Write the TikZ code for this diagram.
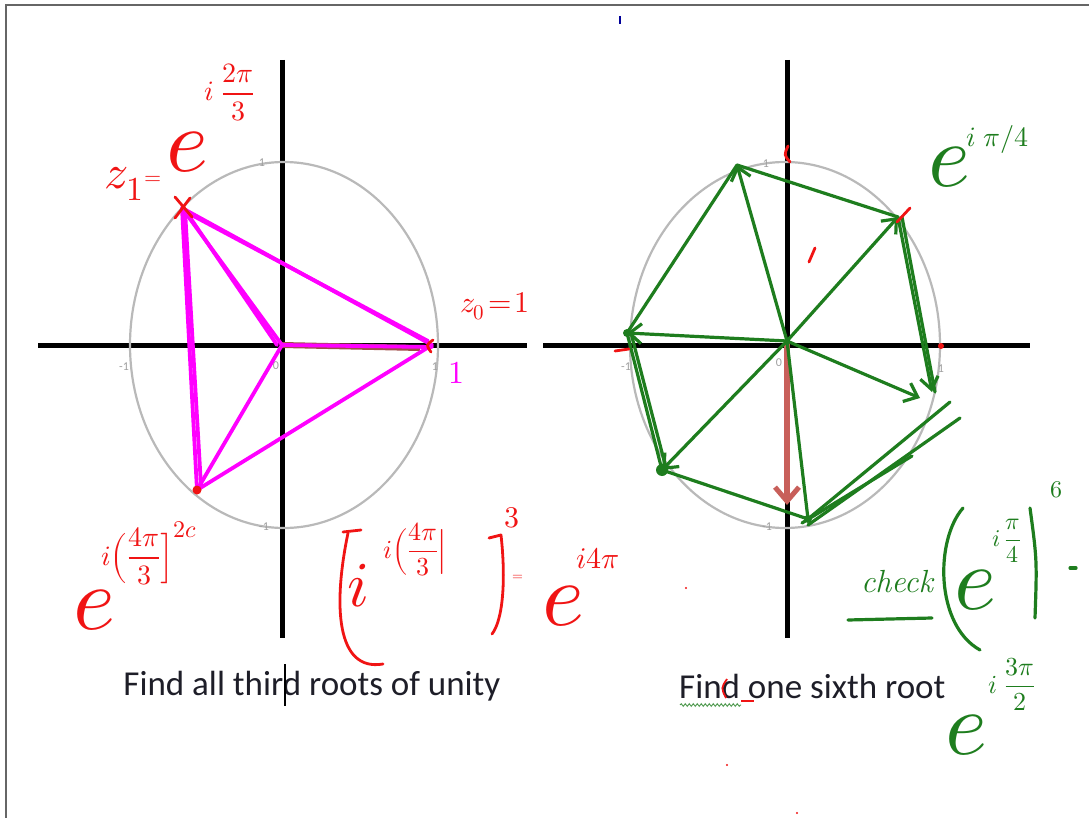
\documentclass[tikz,border=0pt]{standalone}
\usepackage{fontspec}
\usepackage{unicode-math}
\newfontfamily\slidefont{Carlito}
\usetikzlibrary{arrows.meta,decorations.pathmorphing}

\definecolor{penRed}{RGB}{240,20,20}
\definecolor{penPink}{RGB}{255,0,255}
\definecolor{penGreen}{RGB}{30,125,30}
\definecolor{arrowRed}{RGB}{200,95,90}
\definecolor{slideGray}{RGB}{30,30,40}

% raised handwritten exponent: size, raise, formula
\newcommand{\hwexp}[3]{\raisebox{#2}{\fontsize{#1}{#1}\selectfont$#3$}}

\begin{document}
\begin{tikzpicture}[x=1pt,y=-1pt,
  axis/.style={line width=5pt},
  unitcirc/.style={gray!55,line width=2.2pt},
  ticklbl/.style={text=gray!75,font=\fontsize{12}{12}\selectfont\slidefont,inner sep=0pt},
  pinkpen/.style={penPink,line width=3.8pt,line cap=round,line join=round},
  greenpen/.style={penGreen,line width=3.2pt,line cap=round,line join=round},
  redpen/.style={penRed,line width=2.8pt,line cap=round,line join=round},
  redtext/.style={text=penRed,inner sep=0pt},
  greentext/.style={text=penGreen,inner sep=0pt},
  slidetext/.style={text=slideGray,font=\fontsize{35}{35}\selectfont\slidefont,inner sep=0pt},
  hand/.style={font=\fontsize{#1}{#1}\selectfont}
]
\useasboundingbox (0,0) rectangle (1089,818);

% Slide frame
\draw[gray!80!black,line width=2pt] (6,818) -- (6,5) -- (1089,5);

% Axes
\draw[axis] (38,345) -- (527,345);
\draw[axis] (282,60) -- (282,638);
\draw[axis] (543,345) -- (1030,345);
\draw[axis] (787,60) -- (787,638);

% Unit circles
\draw[unitcirc] (284,345) ellipse [x radius=154,y radius=183];
\draw[unitcirc] (785,345) ellipse [x radius=155,y radius=183];

% Tick labels
\node[ticklbl] (tl1) at (124,367) {-1};
\node[ticklbl] (tl2) at (276,366) {0};
\node[ticklbl] (tl3) at (435,367) {1};
\node[ticklbl] (tl4) at (262,163) {1};
\node[ticklbl] (tl5) at (264,527) {-1};
\node[ticklbl] (tr1) at (626,367) {-1};
\node[ticklbl] (tr2) at (779,363) {0};
\node[ticklbl] (tr3) at (941,369) {1};
\node[ticklbl] (tr4) at (766,164) {1};
\node[ticklbl] (tr5) at (767,527) {-1};

% Slide captions
\node[slidetext] (capleft) at (312,686) {Find all third roots of unity};
\node[slidetext,anchor=west] (capright) at (679,686) {Find one sixth root};
\draw[line width=1.5pt] (285,664) -- (285,706);
\draw[penGreen!80,line width=0.9pt,decorate,decoration={snake,amplitude=1.3pt,segment length=4pt}]
  (680,705) -- (741,705);
\draw[penRed,line width=1.8pt] (727,679) .. controls (721,688) .. (726,698);
\draw[penRed,line width=1.8pt] (741,701) -- (754,701);

% Third roots
\coordinate (O1) at (282,345);
\coordinate (z0) at (432,345);
\coordinate (z1) at (182,208);
\coordinate (z2) at (197,490);

\draw[arrowRed!80!black,line width=6pt] (O1) -- (420,348);
\draw[pinkpen] (O1) -- ([yshift=-2]z0);
\draw[pinkpen] (z0) -- (z1) -- (z2) -- (z0);
\draw[pinkpen] ([shift={(4,4)}]z1) -- ([shift={(-4,-4)}]z0);
\draw[pinkpen] ([shift={(3,2)}]z1) -- ([shift={(4,-4)}]z2);
\draw[pinkpen] (O1) -- (z1);
\draw[pinkpen] ([shift={(-5,0)}]O1) -- ([shift={(5,5)}]z1);
\draw[pinkpen] (O1) -- (z2);

\draw[redpen] (175,197) -- (192,217);
\draw[redpen] (190,198) -- (175,218);
\fill[penRed] (z2) circle (4.5pt);
\draw[redpen] (433,340) .. controls (426,345) .. (431,352);

% Third roots, writing
\node[redtext,hand=48] (zone) at (124,184) {$z_1$};
\node[redtext,hand=22] (eqone) at (153,180) {$=$};
\node[redtext,hand=90,anchor=base west] (eone) at (166,172)
  {$e$\kern-4pt\hwexp{28}{71pt}{i\;\displaystyle\frac{2\pi}{3}}};

\node[redtext,hand=30] (zzero) at (495,306) {$z_0\!=\!1$};
\node[text=penPink,inner sep=0pt,hand=32] (onelbl) at (456,373) {$1$};

\node[redtext,hand=90,anchor=base west] (etwo) at (73,629)
  {$e$\kern-14pt\hwexp{28}{64pt}{i\Bigl(\displaystyle\frac{4\pi}{3}\Bigr]^{\mbox{\fontsize{24}{24}\selectfont$2c$}}}};

\draw[redpen] (343,532) -- (361,530);
\draw[redpen] (348,533) .. controls (333,605) and (336,672) .. (383,664);
\node[redtext,hand=64,anchor=base west] (ibase) at (347,606)
  {$i$\kern14pt\hwexp{26}{48pt}{i\Bigl(\displaystyle\frac{4\pi}{3}\Bigr|}};
\draw[redpen] (489,538) -- (501,535) .. controls (506,580) and (503,620) .. (492,634);
\node[redtext,hand=30] (cube) at (512,518) {$3$};
\node[redtext,hand=14] (eqtwo) at (518,578) {$=$};
\node[redtext,hand=90,anchor=base west] (ethree) at (542,625)
  {$e$\kern-8pt\hwexp{30}{57pt}{i4\pi}};

% Sixth roots
\coordinate (O2) at (787,341);
\coordinate (w1) at (737,165);
\coordinate (w2) at (898,217);
\coordinate (w3) at (932,392);
\coordinate (w4) at (808,519);
\coordinate (w5) at (662,470);
\coordinate (w6) at (627,333);

\draw[arrowRed,line width=6pt,-{Straight Barb[length=14pt,width=24pt,line width=5pt]}]
  (O2) -- (787,505);

\draw[greenpen,-{Straight Barb[length=12pt,width=20pt]}] (O2) -- (w1);
\draw[greenpen,-{Straight Barb[length=12pt,width=20pt]}] (O2) -- (w2);
\draw[greenpen,-{Straight Barb[length=12pt,width=20pt]}] (O2) -- (920,398);
\draw[greenpen] (O2) -- (w4);
\draw[greenpen,-{Straight Barb[length=12pt,width=20pt]}] (O2) -- (w5);
\draw[greenpen,-{Straight Barb[length=12pt,width=20pt]}] (O2) -- (w6);
\draw[greenpen] (w6) -- (w1) -- (w2);
\draw[greenpen,-{Straight Barb[length=12pt,width=18pt]}] (w2) -- (w3);
\draw[greenpen] ([xshift=4]w2) -- ([xshift=3]w3);
\draw[greenpen] (w4) -- (w5) -- (w6);
\draw[greenpen] ([shift={(4,-2)}]w5) -- ([shift={(4,0)}]w6);
\draw[greenpen] (w4) -- (950,402);
\draw[greenpen] ([shift={(0,6)}]w4) -- (960,418);
\draw[greenpen] ([shift={(-6,4)}]w4) -- (912,456);

\fill[penGreen] (w5) circle (6pt);
\fill[penGreen] (w6) circle (4pt);
\fill[penGreen] (w4) circle (4pt);

\draw[redpen] (788,146) .. controls (784,155) .. (790,162);
\draw[redpen] (809,262) -- (815,248);
\draw[redpen] (897,222) -- (910,208);
\fill[penRed] (941,346) circle (3pt);
\draw[redpen] (615,351) -- (629,349);

% Sixth roots, writing
\node[greentext,hand=90,anchor=base west] (efour) at (928,187)
  {$e$\kern-4pt\hwexp{28}{40pt}{i\;\pi/4}};

\node[greentext,hand=32] (check) at (897,582) {\itshape check};
\draw[greenpen] (848,620) -- (932,618);
\draw[greenpen] (963,508) .. controls (935,540) and (935,625) .. (980,650);
\node[greentext,hand=90,anchor=base west] (efive) at (954,609)
  {$e$\kern-4pt\hwexp{24}{63pt}{i\,\displaystyle\frac{\pi}{4}}};
\draw[greenpen] (1030,508) .. controls (1037,560) .. (1035,618);
\node[greentext,hand=24] (sixth) at (1056,490) {$6$};
\draw[greenpen] (1070,568) -- (1076,568);

\node[greentext,hand=90,anchor=base west] (esix) at (945,754)
  {$e$\kern1pt\hwexp{26}{61pt}{i\;\displaystyle\frac{3\pi}{2}}};

% Stray marks
\draw[blue!60!black,line width=1.5pt] (620,16) -- (620,24);
\fill[penRed] (686,588) circle (1.2pt);
\fill[penRed] (727,765) circle (1.2pt);
\fill[penRed] (797,813) circle (1.2pt);

\end{tikzpicture}
\end{document}
